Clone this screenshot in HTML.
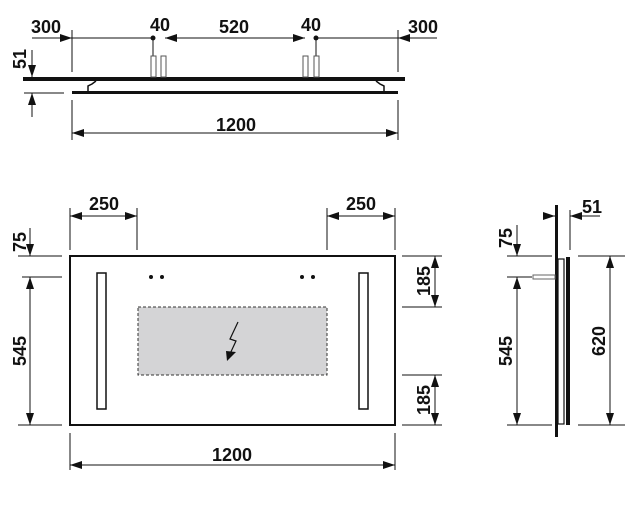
<!DOCTYPE html>
<html><head><meta charset="utf-8"><style>
body{margin:0;background:#fff}
svg{display:block}
text{font-family:"Liberation Sans Narrow","Liberation Sans",sans-serif;font-weight:bold;font-size:18px;fill:#111}
</style></head><body>
<svg width="637" height="509" viewBox="0 0 637 509" xmlns="http://www.w3.org/2000/svg">
<defs>
<marker id="a" markerWidth="12" markerHeight="8" refX="12" refY="4" orient="auto" markerUnits="userSpaceOnUse"><path d="M0,0 L12,4 L0,8 Z" fill="#111"/></marker>
</defs>
<g stroke="#111" stroke-width="1" fill="none">
<line x1="32" y1="38" x2="72" y2="38" marker-end="url(#a)"/>
<line x1="72" y1="38" x2="153" y2="38"/>
<line x1="210" y1="38" x2="165" y2="38" marker-end="url(#a)"/>
<line x1="210" y1="38" x2="258" y2="38"/>
<line x1="258" y1="38" x2="305" y2="38" marker-end="url(#a)"/>
<line x1="316" y1="38" x2="398" y2="38"/>
<line x1="437" y1="38" x2="398" y2="38" marker-end="url(#a)"/>
<line x1="72" y1="30" x2="72" y2="72"/>
<line x1="398" y1="30" x2="398" y2="72"/>
<line x1="153" y1="38" x2="153" y2="58"/><line x1="316" y1="38" x2="316" y2="58"/>
<line x1="32" y1="50" x2="32" y2="77" marker-end="url(#a)"/>
<line x1="32" y1="117" x2="32" y2="93" marker-end="url(#a)"/>
<line x1="24" y1="93" x2="64" y2="93"/>
<line x1="72" y1="100" x2="72" y2="140"/><line x1="398" y1="100" x2="398" y2="140"/>
<line x1="235" y1="133" x2="72" y2="133" marker-end="url(#a)"/>
<line x1="235" y1="133" x2="398" y2="133" marker-end="url(#a)"/>
</g>
<circle cx="153" cy="38" r="2.5" fill="#111"/><circle cx="316" cy="38" r="2.5" fill="#111"/>
<rect x="23" y="77" width="382" height="4" fill="#111"/>
<rect x="72" y="91" width="326" height="3" fill="#111"/>
<path d="M88,91 L88,86 L92,84 L96,81 M384,91 L384,86 L380,84 L376,81" stroke="#111" stroke-width="1.5" fill="none"/>
<g stroke="#555" stroke-width="1" fill="#fff">
<rect x="151" y="56" width="5" height="21"/><rect x="161" y="56" width="5" height="21"/>
<rect x="303" y="56" width="5" height="21"/><rect x="314" y="56" width="5" height="21"/>
</g>
<text x="46" y="33" text-anchor="middle">300</text>
<text x="160" y="31" text-anchor="middle">40</text>
<text x="234" y="33" text-anchor="middle">520</text>
<text x="311" y="31" text-anchor="middle">40</text>
<text x="423" y="33" text-anchor="middle">300</text>
<text x="236" y="131" text-anchor="middle">1200</text>
<text transform="translate(26,59) rotate(-90)" text-anchor="middle">51</text>

<rect x="70" y="256" width="325" height="169" fill="#fff" stroke="#111" stroke-width="2"/>
<rect x="97" y="273" width="9" height="136" fill="#fff" stroke="#111" stroke-width="1.5"/>
<rect x="359" y="273" width="9" height="136" fill="#fff" stroke="#111" stroke-width="1.5"/>
<rect x="138" y="307" width="189" height="68" fill="#d4d4d6" stroke="#333" stroke-width="1" stroke-dasharray="3,2"/>
<path d="M238,322 L230,339 L236,341 L229,356" stroke="#111" stroke-width="1.2" fill="none"/>
<path d="M226,351 L236,352 L227,361 Z" fill="#111"/>
<g fill="#111"><circle cx="151" cy="277" r="2"/><circle cx="162" cy="277" r="2"/><circle cx="302" cy="277" r="2"/><circle cx="313" cy="277" r="2"/></g>
<g stroke="#111" stroke-width="1" fill="none">
<line x1="70" y1="208" x2="70" y2="250"/><line x1="137" y1="208" x2="137" y2="250"/>
<line x1="104" y1="216" x2="70" y2="216" marker-end="url(#a)"/><line x1="104" y1="216" x2="137" y2="216" marker-end="url(#a)"/>
<line x1="327" y1="208" x2="327" y2="250"/><line x1="395" y1="208" x2="395" y2="250"/>
<line x1="361" y1="216" x2="327" y2="216" marker-end="url(#a)"/><line x1="361" y1="216" x2="395" y2="216" marker-end="url(#a)"/>
<line x1="18" y1="256" x2="62" y2="256"/><line x1="22" y1="277" x2="62" y2="277"/><line x1="18" y1="425" x2="62" y2="425"/>
<line x1="30" y1="228" x2="30" y2="256" marker-end="url(#a)"/>
<line x1="30" y1="350" x2="30" y2="277" marker-end="url(#a)"/><line x1="30" y1="350" x2="30" y2="425" marker-end="url(#a)"/>
<line x1="402" y1="256" x2="442" y2="256"/><line x1="402" y1="307" x2="442" y2="307"/>
<line x1="402" y1="375" x2="442" y2="375"/><line x1="402" y1="425" x2="442" y2="425"/>
<line x1="435" y1="281" x2="435" y2="256" marker-end="url(#a)"/><line x1="435" y1="281" x2="435" y2="307" marker-end="url(#a)"/>
<line x1="435" y1="400" x2="435" y2="375" marker-end="url(#a)"/><line x1="435" y1="400" x2="435" y2="425" marker-end="url(#a)"/>
<line x1="70" y1="433" x2="70" y2="470"/><line x1="395" y1="433" x2="395" y2="470"/>
<line x1="232" y1="465" x2="70" y2="465" marker-end="url(#a)"/><line x1="232" y1="465" x2="395" y2="465" marker-end="url(#a)"/>
</g>
<text x="104" y="210" text-anchor="middle">250</text>
<text x="361" y="210" text-anchor="middle">250</text>
<text x="232" y="461" text-anchor="middle">1200</text>
<text transform="translate(26,242) rotate(-90)" text-anchor="middle">75</text>
<text transform="translate(26,351) rotate(-90)" text-anchor="middle">545</text>
<text transform="translate(430,281) rotate(-90)" text-anchor="middle">185</text>
<text transform="translate(430,400) rotate(-90)" text-anchor="middle">185</text>

<rect x="555" y="205" width="3" height="232" fill="#111"/>
<rect x="558" y="259" width="6" height="165" fill="#fff" stroke="#111" stroke-width="1.2"/>
<rect x="566" y="257" width="4" height="168" fill="#111"/>
<rect x="533" y="275" width="22" height="4" fill="#fff" stroke="#666" stroke-width="1"/>
<g stroke="#111" stroke-width="1" fill="none">
<line x1="543" y1="216" x2="555" y2="216" marker-end="url(#a)"/>
<line x1="600" y1="216" x2="570" y2="216" marker-end="url(#a)"/>
<line x1="570" y1="210" x2="570" y2="250"/>
<line x1="507" y1="256" x2="552" y2="256"/><line x1="507" y1="277" x2="532" y2="277"/><line x1="507" y1="425" x2="552" y2="425"/>
<line x1="517" y1="225" x2="517" y2="256" marker-end="url(#a)"/>
<line x1="517" y1="350" x2="517" y2="277" marker-end="url(#a)"/><line x1="517" y1="350" x2="517" y2="425" marker-end="url(#a)"/>
<line x1="578" y1="256" x2="625" y2="256"/><line x1="578" y1="425" x2="625" y2="425"/>
<line x1="610" y1="340" x2="610" y2="256" marker-end="url(#a)"/><line x1="610" y1="340" x2="610" y2="425" marker-end="url(#a)"/>
</g>
<text x="592" y="213" text-anchor="middle">51</text>
<text transform="translate(512,238) rotate(-90)" text-anchor="middle">75</text>
<text transform="translate(512,351) rotate(-90)" text-anchor="middle">545</text>
<text transform="translate(605,341) rotate(-90)" text-anchor="middle">620</text>
</svg>
</body></html>
